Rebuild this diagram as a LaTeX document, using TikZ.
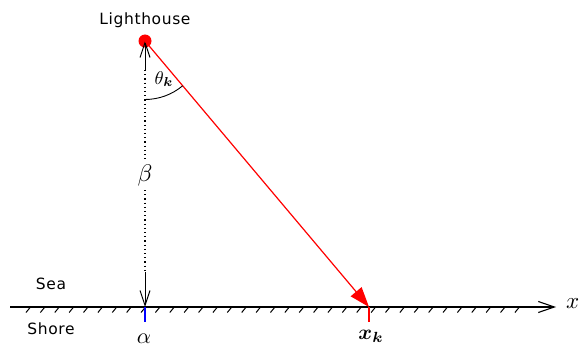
\documentclass[tikz,border=0pt]{standalone}
\usepackage{fontspec}
\usepackage{amsmath,bm,graphicx}
\usetikzlibrary{arrows.meta}
\newfontfamily\labfont[LetterSpace=4]{DejaVu Sans}
\begin{document}
\begin{tikzpicture}[x=1pt,y=-1pt,
  txt/.style={font=\labfont\fontsize{15.5}{17}\selectfont, inner sep=0},
  mth/.style={inner sep=0},
  hatch/.style={line width=1pt},
  dots/.style={line width=1.2pt, dash pattern=on 1.2pt off 3pt},
  openhead/.style={-{Straight Barb[length=15pt,width=10pt,line width=1pt]}},
]
\useasboundingbox (0,0) rectangle (581,350);
% named points
\node[circle, fill=red, inner sep=0, minimum size=13pt] (L) at (145,41) {};
\coordinate (Lc) at (145,41);
\coordinate (A) at (145,307);
\coordinate (X) at (369,307);
\coordinate (axS) at (10,307);
\coordinate (axE) at (556,307);
\coordinate (up1) at (145,70);
\coordinate (dn1) at (145,272);
\coordinate (bt) at (145,160);
\coordinate (bb) at (145,190);
% hatches
\foreach \i in {0,...,34} {
  \draw[hatch] ({26+\i*14.38},312.5) -- ({30.5+\i*14.38},307);
}
% axis
\draw[line width=1.1pt, -{Straight Barb[length=16pt,width=11pt,line width=1.1pt]}] (axS) -- (axE);
\node[mth, anchor=west] (xl) at (566,304) {\scalebox{2.3}{$x$}};
% ticks
\draw[blue, line width=2.2pt] (A) -- ++(0,15) coordinate (Ab);
\draw[red, line width=2.4pt] (X) -- ++(0,15) coordinate (Xb);
% vertical dotted line with arrows
\draw[line width=1pt, openhead] (up1) -- (Lc);
\draw[dots] (up1) -- (bt);
\draw[dots] (bb) -- (dn1);
\draw[line width=1pt, openhead] (dn1) -- (A);
\node[mth] (beta) at (145,175) {\scalebox{2.4}{$\beta$}};
% red ray
\draw[red, line width=1.2pt, -{Triangle[length=20pt,width=14pt]}] (Lc) -- (X);
% angle arc
\draw[line width=0.9pt] (145,{41+58.5}) arc[start angle=90, end angle={90-40.1}, radius=58.5];
\node[mth] (theta) at (164,79) {\scalebox{1.85}{$\theta_{\bm{k}}$}};
% labels
\node[txt] (lh) at (145,20) {Lighthouse};
\node[txt] (sea) at (51,284) {Sea};
\node[txt] (shore) at (51,329) {Shore};
\node[mth] (alpha) at (144,339) {\scalebox{2.2}{$\alpha$}};
\node[mth] (xk) at (371,336) {\scalebox{2.1}{$\bm{x_k}$}};
\end{tikzpicture}
\end{document}
